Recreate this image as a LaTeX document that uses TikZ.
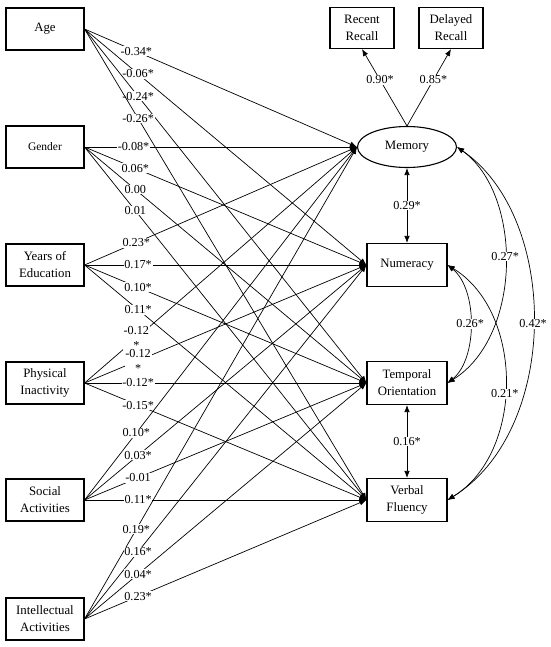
\documentclass[tikz,border=0pt]{standalone}
\usepackage{fontspec}
\setmainfont{Liberation Serif}
\usetikzlibrary{arrows.meta,shapes.geometric}
\begin{document}
\begin{tikzpicture}[x=1pt,y=-1pt,
  box/.style={draw, line width=1.1pt, minimum width=78pt, minimum height=42pt, align=center, inner sep=0pt, font=\fontsize{12.8}{17}\selectfont},
  rbox/.style={box, minimum width=80pt, minimum height=43pt},
  ibox/.style={box, minimum width=64pt, minimum height=41pt},
  lab/.style={fill=white, inner sep=0.8pt, align=center, font=\fontsize{12.2}{15}\selectfont},
  arr/.style={line width=0.7pt, -{Latex[length=7pt,width=5.5pt]}},
  dbl/.style={line width=0.7pt, {Latex[length=7pt,width=5.5pt]}-{Latex[length=7pt,width=5.5pt]}}
]
\useasboundingbox (0,0) rectangle (550,647);
% left boxes
\node[box] (age) at (45,29) {Age};
\node[box, font=\fontsize{11.5}{12}\selectfont] (gen) at (45,147) {Gender};
\node[box] (edu) at (45,265) {Years of\\Education};
\node[box] (phy) at (45,383) {Physical\\Inactivity};
\node[box] (soc) at (45,500) {Social\\Activities};
\node[box] (int) at (45,619) {Intellectual\\Activities};
% right nodes
\node[ibox] (rec) at (362,28) {Recent\\Recall};
\node[ibox] (del) at (451,28) {Delayed\\Recall};
\node[draw, ellipse, line width=1.1pt, minimum width=99pt, minimum height=41pt, inner sep=0pt, font=\fontsize{12.8}{14}\selectfont] (mem) at (407,147) {Memory};
\node[rbox] (num) at (407,265) {Numeracy};
\node[rbox] (tem) at (407,383) {Temporal\\Orientation};
\node[rbox] (ver) at (407,500) {Verbal\\Fluency};
% indicators
\draw[arr] (mem.north) -- node[lab,pos=0.6]{0.90*} (rec.south);
\draw[arr] (mem.north) -- node[lab,pos=0.6]{0.85*} (del.south);
% predictors
\draw[arr] (age.east) -- node[lab,pos=0.19]{-0.34*} (mem.west);
\draw[arr] (age.east) -- node[lab,pos=0.19]{-0.06*} (num.west);
\draw[arr] (age.east) -- node[lab,pos=0.19]{-0.24*} (tem.west);
\draw[arr] (age.east) -- node[lab,pos=0.19]{-0.26*} (ver.west);
\draw[arr] (gen.east) -- node[lab,pos=0.18]{-0.08*} (mem.west);
\draw[arr] (gen.east) -- node[lab,pos=0.18]{0.06*} (num.west);
\draw[arr] (gen.east) -- node[lab,pos=0.18]{0.00} (tem.west);
\draw[arr] (gen.east) -- node[lab,pos=0.18]{0.01} (ver.west);
\draw[arr] (edu.east) -- node[lab,pos=0.19]{0.23*} (mem.west);
\draw[arr] (edu.east) -- node[lab,pos=0.19]{0.17*} (num.west);
\draw[arr] (edu.east) -- node[lab,pos=0.19]{0.10*} (tem.west);
\draw[arr] (edu.east) -- node[lab,pos=0.19]{0.11*} (ver.west);
\draw[arr] (phy.east) -- node[lab,pos=0.19]{-0.12\\*} (mem.west);
\draw[arr] (phy.east) -- node[lab,pos=0.19]{-0.12\\*} (num.west);
\draw[arr] (phy.east) -- node[lab,pos=0.19]{-0.12*} (tem.west);
\draw[arr] (phy.east) -- node[lab,pos=0.19]{-0.15*} (ver.west);
\draw[arr] (soc.east) -- node[lab,pos=0.19]{0.10*} (mem.west);
\draw[arr] (soc.east) -- node[lab,pos=0.19]{0.03*} (num.west);
\draw[arr] (soc.east) -- node[lab,pos=0.19]{-0.01} (tem.west);
\draw[arr] (soc.east) -- node[lab,pos=0.19]{0.11*} (ver.west);
\draw[arr] (int.east) -- node[lab,pos=0.19]{0.19*} (mem.west);
\draw[arr] (int.east) -- node[lab,pos=0.19]{0.16*} (num.west);
\draw[arr] (int.east) -- node[lab,pos=0.19]{0.04*} (tem.west);
\draw[arr] (int.east) -- node[lab,pos=0.19]{0.23*} (ver.west);
% correlations
\draw[dbl] (mem.south) -- node[lab]{0.29*} (num.north);
\draw[dbl] (tem.south) -- node[lab]{0.16*} (ver.north);
\draw[dbl] (num.east) .. controls (477.7,289) and (477.7,359) .. node[lab,pos=0.5]{0.26*} (tem.east);
\draw[dbl] (mem.east) .. controls (522.7,194) and (522.7,336) .. node[lab,pos=0.47]{0.27*} (tem.east);
\draw[dbl] (num.east) .. controls (524.3,312) and (524.3,453) .. node[lab,pos=0.54]{0.21*} (ver.east);
\draw[dbl] (mem.east) .. controls (560,218) and (560,430) .. node[lab,pos=0.5]{0.42*} (ver.east);
\end{tikzpicture}
\end{document}
